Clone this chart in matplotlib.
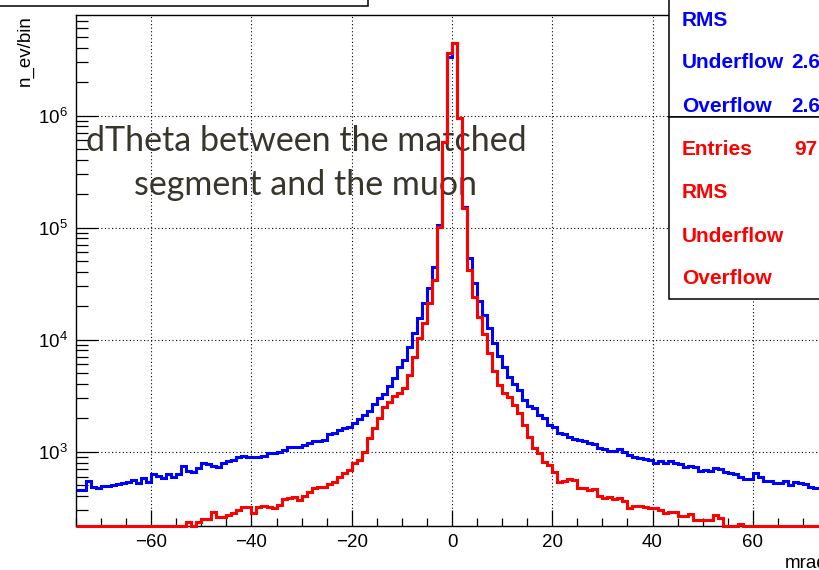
import numpy as np
import matplotlib
matplotlib.use('Agg')
import matplotlib.pyplot as plt
from matplotlib.patches import Rectangle
from matplotlib.ticker import LogLocator, MultipleLocator, NullFormatter, FixedLocator

# histogram range (mrad), 1 mrad bins
xlo = -75.
xhi = 75.
ymin = 217.
ymax = 7.9e6

# all segments (blue), counts per bin
blue = [455, 455, 547, 481, 471, 497, 494, 505, 512, 522,
        540, 559, 522, 586, 540, 632, 611, 586, 632, 598,
        632, 745, 676, 663, 711, 788, 772, 750, 726, 798,
        826, 843, 891, 916, 902, 902, 902, 921, 980, 980,
        1000, 1035, 1094, 1108, 1108, 1148, 1203, 1246, 1254, 1272,
        1430, 1459, 1562, 1618, 1671, 1815, 1946, 2127, 2309, 2667,
        2998, 3275, 3828, 4550, 5650, 6590, 8510, 11400, 15520, 21130,
        28770, 44870, 105700, 586000, 3340000, 4460000, 948000, 154000, 53300, 31900,
        22180, 16630, 12640, 9350, 7150, 5700, 4670, 4020, 3556, 2896,
        2559, 2441, 2127, 1986, 1730, 1662, 1479, 1430, 1361, 1291,
        1272, 1246, 1203, 1164, 1072, 1057, 1021, 1014, 1051, 988,
        925, 891, 873, 861, 843, 798, 826, 798, 831, 798,
        772, 726, 745, 726, 676, 687, 676, 711, 697, 663,
        649, 628, 598, 570, 567, 649, 598, 551, 551, 529,
        529, 551, 505, 540, 522, 515, 487, 471, 471, 480]

# matched segments (red), counts per bin (0 = below the plotted range)
red = [0, 0, 0, 0, 0, 0, 0, 0, 0, 0,
       0, 0, 0, 0, 0, 0, 0, 0, 0, 0,
       0, 0, 237, 0, 237, 249, 249, 291, 263, 259,
       272, 285, 302, 319, 319, 286, 321, 327, 323, 316,
       334, 376, 388, 396, 371, 402, 440, 471, 481, 487,
       512, 540, 598, 649, 687, 788, 843, 1000, 1317, 1618,
       2012, 2522, 2795, 3150, 3342, 3705, 4790, 7010, 10290, 14000,
       21130, 34120, 102100, 586000, 3630000, 4460000, 948000, 149900, 41900, 24200,
       15790, 11240, 7560, 5200, 3940, 3320, 3048, 2612, 2203, 1730,
       1361, 1072, 968, 814, 761, 663, 540, 551, 567, 559,
       471, 471, 455, 462, 402, 384, 396, 376, 384, 365,
       313, 327, 327, 323, 313, 313, 302, 282, 291, 291,
       267, 267, 278, 245, 245, 245, 245, 272, 254, 0,
       0, 0, 226, 0, 0, 0, 0, 0, 0, 0,
       0, 0, 0, 0, 0, 0, 0, 0, 0, 0]

xticks = [-60, -40, -20, 0, 20, 40, 60]
yticks = [1e3, 1e4, 1e5, 1e6]
ytick_labels = [r'$10^{3}$', r'$10^{4}$', r'$10^{5}$', r'$10^{6}$']

overlay = 'dTheta between the matched\nsegment and the muon'
blue_stats = [('RMS', ''), ('Underflow', '2.6'), ('Overflow', '2.6')]
red_stats = [('Entries', '97'), ('RMS', ''), ('Underflow', ''), ('Overflow', '')]

plt.rcParams['font.family'] = 'Liberation Sans'
plt.rcParams['mathtext.fontset'] = 'custom'
plt.rcParams['mathtext.rm'] = 'Liberation Sans'
plt.rcParams['mathtext.default'] = 'regular'

W, H = 819., 570.

def fx(x):
    return x / W

def fy(y):
    return 1. - y / H


fig = plt.figure(figsize=[W/100., H/100.], dpi=100)
ax = fig.add_axes([fx(76), fy(526), fx(828) - fx(76), fy(15) - fy(526)])

edges = np.linspace(xlo, xhi, len(blue) + 1)
ax.stairs(np.maximum(blue, ymin), edges, baseline=None, color='#0000ff', lw=2.2, zorder=3)
ax.stairs(np.maximum(red, ymin), edges, baseline=None, color='#ff0000', lw=2.2, zorder=4, clip_on=False)

ax.set_yscale('log')
ax.set_xlim(xlo, xhi)
ax.set_ylim(ymin, ymax)

ax.xaxis.set_major_locator(FixedLocator(xticks))
ax.xaxis.set_minor_locator(MultipleLocator(5))
ax.yaxis.set_major_locator(FixedLocator(yticks))
ax.set_yticklabels(ytick_labels)
ax.yaxis.set_minor_locator(LogLocator(base=10, subs=np.arange(2, 10)))
ax.yaxis.set_minor_formatter(NullFormatter())
ax.set_xticklabels([str(t).replace('-', '\u2212') for t in xticks])

ax.tick_params(axis='x', which='major', direction='in', length=11.5, width=0.9, labelsize=13.5, pad=6, top=False)
ax.tick_params(axis='x', which='minor', direction='in', length=5.5, width=0.9, top=False)
ax.tick_params(axis='y', which='major', direction='in', length=16, width=0.9, labelsize=13.5, pad=6, right=False)
ax.tick_params(axis='y', which='minor', direction='in', length=8.5, width=0.9, right=False)

ax.grid(True, which='major', color='black', linestyle=(0, (1, 2.2)), linewidth=0.8)
ax.set_axisbelow(True)
for s in ax.spines.values():
    s.set_linewidth(1.0)

ax.text(fx(306), fy(163), overlay, transform=fig.transFigure, ha='center', va='center',
        fontsize=24.5, family='Lato', color='#38352b', linespacing=1.45, zorder=2)

fig.text(fx(25), fy(15), 'n_ev/bin', rotation=90, ha='center', va='top', fontsize=13.5)
fig.text(fx(828), fy(563), 'mrad', ha='right', va='center', fontsize=13.5)

# title box (top left) and stats boxes (top right)
fig.add_artist(Rectangle((fx(-10), fy(6)), fx(368) - fx(-10), fy(-10) - fy(6),
                         transform=fig.transFigure, facecolor='white', edgecolor='black', lw=1.1))
fig.add_artist(Rectangle((fx(669), fy(117)), fx(900) - fx(669), fy(-20) - fy(117),
                         transform=fig.transFigure, facecolor='white', edgecolor='black', lw=1.1))
fig.add_artist(Rectangle((fx(669), fy(299)), fx(900) - fx(669), fy(117) - fy(299),
                         transform=fig.transFigure, facecolor='white', edgecolor='black', lw=1.1))

for k, (lab, val) in enumerate(blue_stats):
    y = 20 + 43 * k
    fig.text(fx(682), fy(y), lab, ha='left', va='center', fontsize=15, weight='bold', color='#0000ff', zorder=5)
    fig.text(fx(791), fy(y), val, ha='left', va='center', fontsize=15, weight='bold', color='#0000ff', zorder=5)
for k, (lab, val) in enumerate(red_stats):
    y = 150 + 43 * k
    fig.text(fx(682), fy(y), lab, ha='left', va='center', fontsize=15, weight='bold', color='#ff0000', zorder=5)
    fig.text(fx(794), fy(y), val, ha='left', va='center', fontsize=15, weight='bold', color='#ff0000', zorder=5)

fig.savefig('out.png', dpi=100)
